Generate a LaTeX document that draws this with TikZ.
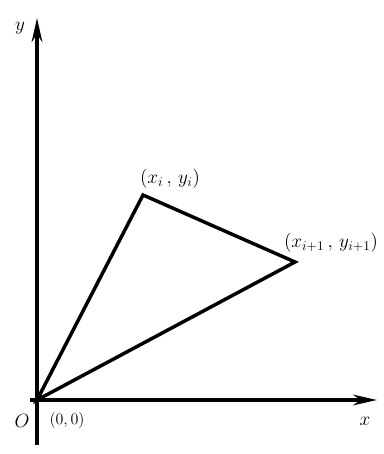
\documentclass[tikz,border=0pt]{standalone}
\usepackage{amsmath,amssymb}
\usepackage{tikz}
\usetikzlibrary{arrows.meta,positioning}

\begin{document}
\begin{tikzpicture}[
    x=0.75pt, y=0.75pt,
    >={Stealth[length=18pt,width=8pt]},
    axis/.style={->, line width=2.6pt},
    edge/.style={line width=2.6pt, line join=miter},
    lbl/.style={inner sep=1pt, font=\Large}
]
\useasboundingbox (-37,-54) rectangle (347,400);

% axes
\coordinate (xl) at (-7,0);
\coordinate (xr) at (340,0);
\coordinate (yb) at (0,-45);
\coordinate (yt) at (0,382);
\draw[axis] (xl) -- (xr);
\draw[axis] (yb) -- (yt);

\node[lbl] (ylab) at (-17,372) {$y$};
\node[lbl] (xlab) at (328,-21) {$x$};
\node[lbl] (Olab) at (-15,-21) {$O$};
\node[lbl, font=\large] (zero) at (30,-21) {$(0,0)$};

% triangle
\coordinate (O) at (0,0);
\coordinate (Pi) at (106,205);
\coordinate (Pj) at (258,138);
\draw[edge] (O) -- (Pi) -- (Pj) -- cycle;

\node[lbl] (Pilab) at (133,221) {$(x_i\,,\,y_i)$};
\node[lbl] (Pjlab) at (294,157) {$(x_{i+1}\,,\,y_{i+1})$};

\end{tikzpicture}
\end{document}
